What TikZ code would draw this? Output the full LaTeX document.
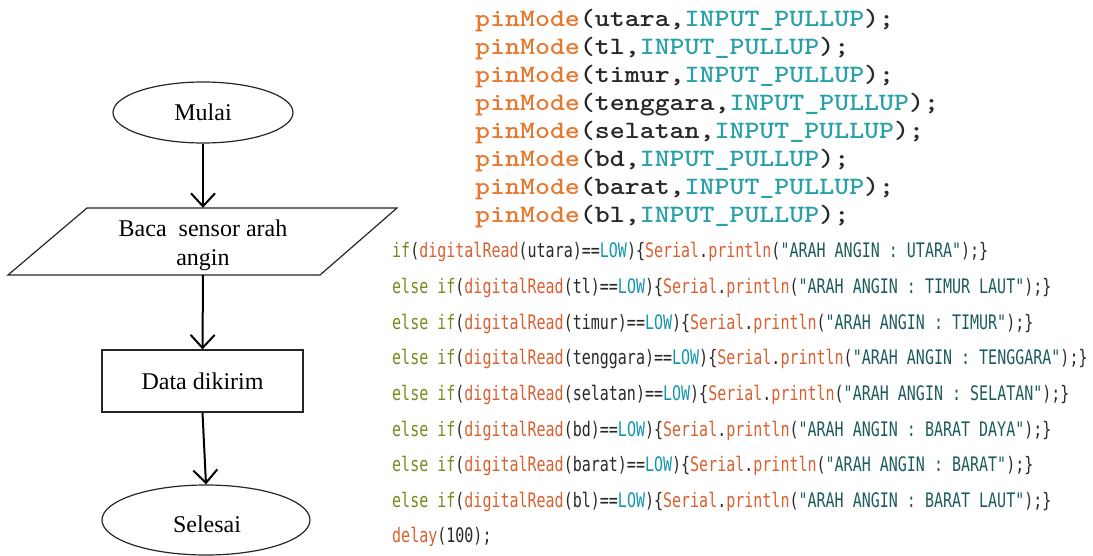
\documentclass[tikz,border=0pt]{standalone}
\usepackage{fontspec}
\setmainfont{Liberation Serif}
\newfontfamily\ardfont{DejaVu Sans Mono}
\usetikzlibrary{arrows.meta,shapes.geometric}

% Arduino-style syntax colours
\definecolor{fnorange}{RGB}{230,120,48}
\definecolor{fnred}{RGB}{216,96,48}
\definecolor{kwgreen}{RGB}{118,138,30}
\definecolor{constteal}{RGB}{40,160,168}
\definecolor{lowteal}{RGB}{20,150,175}
\definecolor{strteal}{RGB}{30,92,92}
\definecolor{plaintxt}{RGB}{40,40,40}

% one pinMode(...) statement
\newcommand{\pinline}[1]{\textcolor{fnorange}{pinMode}(#1,\textcolor{constteal}{INPUT\_PULLUP});}
% one if / else if branch printing the wind direction
\newcommand{\dirbranch}[3]{\textcolor{kwgreen}{#1}(\textcolor{fnred}{digitalRead}(#2)==\textcolor{lowteal}{LOW})\{\textcolor{fnred}{Serial}.\textcolor{fnred}{println}(\textcolor{strteal}{"ARAH ANGIN : #3"});\}}
\newcommand{\narrow}[1]{\scalebox{0.75}[1]{#1}}

\tikzset{
  outline/.style={draw=black!85, line width=1.2pt},
  terminal/.style={outline, ellipse, inner sep=0pt, font=\fontsize{24}{29}\selectfont},
  process/.style={outline, rectangle, inner sep=0pt, font=\fontsize{24}{29}\selectfont},
  iotext/.style={rectangle, inner sep=0pt, align=center, font=\fontsize{24}{29}\selectfont},
  flow/.style={line width=2pt, -{Straight Barb[length=13pt,width=24pt]}},
  pincode/.style={anchor=base west, inner sep=0pt, text=plaintxt, font=\ttfamily\bfseries\fontsize{25}{28}\selectfont},
  ardcode/.style={anchor=base west, inner sep=0pt, text=plaintxt, font=\ardfont\fontsize{20}{24}\selectfont},
}

\begin{document}
\begin{tikzpicture}[x=1pt, y=-1pt]
\useasboundingbox (0,0) rectangle (1093,556);

% flowchart
\node[terminal, minimum width=180pt, minimum height=61pt] (mulai) at (203,112.5) {Mulai};

\coordinate (pTL) at (87,208);
\coordinate (pTR) at (397,208);
\coordinate (pBR) at (320,275);
\coordinate (pBL) at (8,275);
\draw[outline, line join=miter] (pTL) -- (pTR) -- (pBR) -- (pBL) -- cycle;
\node[iotext, minimum width=240pt, minimum height=67pt] (baca) at (203,241.5) {};
\node[iotext] (bacatxt) at (203,245.5) {Baca\ \ sensor arah\\angin};

\node[process, minimum width=201pt, minimum height=62pt] (data) at (202.5,381) {Data dikirim};

\node[terminal, minimum width=208pt, minimum height=70pt] (selesai) at (206,520) {};
\node[inner sep=0pt, font=\fontsize{24}{29}\selectfont] (selesaitxt) at (207,524) {Selesai};

\draw[flow] (mulai.south) -- (baca.north);
\draw[flow] (baca.south) -- (data.north);
\draw[flow] (data.south) -- (selesai.north);

% pin setup
\foreach \pin [count=\i from 0] in {utara,tl,timur,tenggara,selatan,bd,barat,bl}
  \node[pincode] (pin\i) at (475,27+27.9*\i) {\scalebox{1.14}[1]{\pinline{\pin}}};

% wind direction readout
\node[ardcode] (r0) at (392,258) {\narrow{\dirbranch{if}{utara}{UTARA}}};
\node[ardcode] (r1) at (392,293.6) {\narrow{\dirbranch{else if}{tl}{TIMUR LAUT}}};
\node[ardcode] (r2) at (392,329.2) {\narrow{\dirbranch{else if}{timur}{TIMUR}}};
\node[ardcode] (r3) at (392,364.8) {\narrow{\dirbranch{else if}{tenggara}{TENGGARA}}};
\node[ardcode] (r4) at (392,400.4) {\narrow{\dirbranch{else if}{selatan}{SELATAN}}};
\node[ardcode] (r5) at (392,436) {\narrow{\dirbranch{else if}{bd}{BARAT DAYA}}};
\node[ardcode] (r6) at (392,471.6) {\narrow{\dirbranch{else if}{barat}{BARAT}}};
\node[ardcode] (r7) at (392,507.2) {\narrow{\dirbranch{else if}{bl}{BARAT LAUT}}};
\node[ardcode] (r8) at (392,542.8) {\narrow{\textcolor{fnred}{delay}(100);}};
\end{tikzpicture}
\end{document}
